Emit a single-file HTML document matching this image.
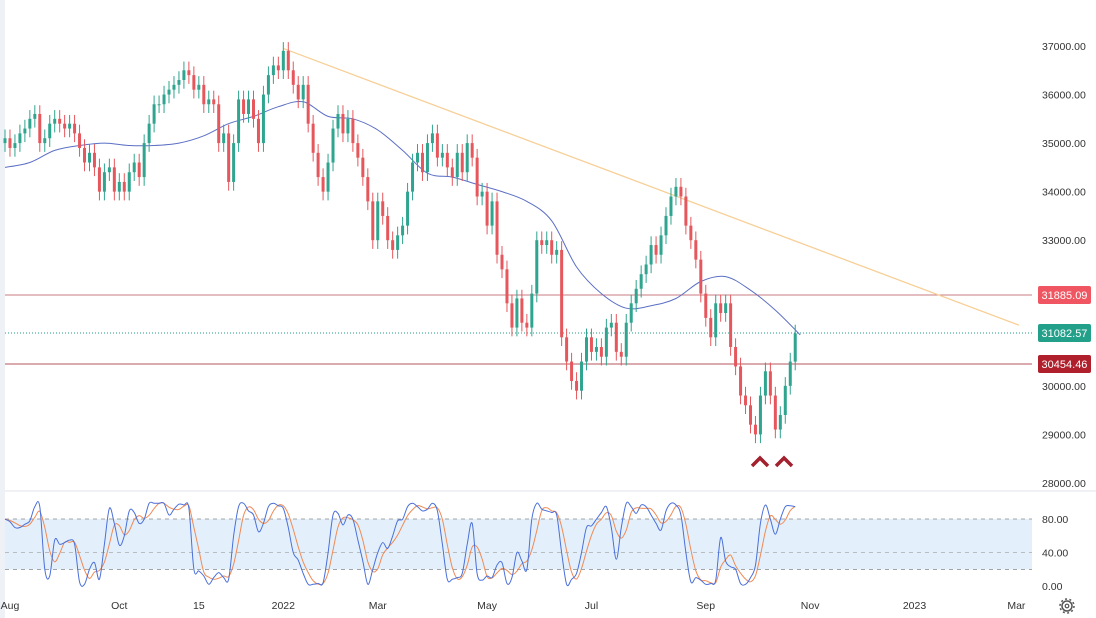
<!DOCTYPE html>
<html><head><meta charset="utf-8"><style>
html,body{margin:0;padding:0;background:#fff;}
svg{display:block;font-family:"Liberation Sans",sans-serif;}
</style></head><body>
<svg id="chart" width="1096" height="618" viewBox="0 0 1096 618">
<rect x="0" y="0" width="1096" height="618" fill="#ffffff"/>
<rect x="0" y="0" width="5" height="618" fill="#eef2f7"/>
<rect x="5" y="519" width="1027" height="50.5" fill="#e3f0fc"/>
<line x1="5" y1="519" x2="1032" y2="519" stroke="#888" stroke-dasharray="4,4" stroke-width="0.8"/>
<line x1="5" y1="552.6" x2="1032" y2="552.6" stroke="#aaa" stroke-dasharray="4,4" stroke-width="0.8"/>
<line x1="5" y1="569.5" x2="1032" y2="569.5" stroke="#888" stroke-dasharray="4,4" stroke-width="0.8"/>
<line x1="5" y1="491" x2="1096" y2="491" stroke="#e0e3eb" stroke-width="1"/>
<line x1="5" y1="295" x2="1032" y2="295" stroke="#c97b82" stroke-width="1"/>
<line x1="5" y1="333" x2="1032" y2="333" stroke="#1f9a86" stroke-width="1" stroke-dasharray="1,2"/>
<line x1="5" y1="364" x2="1032" y2="364" stroke="#b5555e" stroke-width="1"/>
<g id="trend"></g>
<g id="ma"></g>
<g id="candles"></g>
<g id="stoch"></g>
<g id="yaxis"></g>
<g id="xaxis"></g>
<path d="M752 466 L760 458 L768 466" fill="none" stroke="#a3212e" stroke-width="3.5"/>
<path d="M776 466 L784 458 L792 466" fill="none" stroke="#a3212e" stroke-width="3.5"/>
<g><rect x="1038" y="286" width="53" height="18" rx="2" fill="#f05662"/><text x="1064.5" y="299" fill="#fff" font-size="11" text-anchor="middle">31885.09</text></g>
<g><rect x="1038" y="324" width="53" height="18" rx="2" fill="#22a08a"/><text x="1064.5" y="337" fill="#fff" font-size="11" text-anchor="middle">31082.57</text></g>
<g><rect x="1038" y="355" width="53" height="18" rx="2" fill="#b01f2c"/><text x="1064.5" y="368" fill="#fff" font-size="11" text-anchor="middle">30454.46</text></g>
<g><circle cx="1067" cy="606" r="5" fill="none" stroke="#555" stroke-width="1.5"/><circle cx="1067" cy="606" r="1.8" fill="none" stroke="#555" stroke-width="1.2"/><circle cx="1067" cy="606" r="7" fill="none" stroke="#555" stroke-width="1.5" stroke-dasharray="2,2.4"/></g>
</svg>
<script>
const closes=[35.1,34.9,35.0,35.2,35.3,35.5,35.6,35.0,35.1,35.4,35.5,35.4,35.3,35.4,35.2,34.9,34.6,34.8,34.5,34.0,34.4,34.5,34.0,34.2,34.0,34.4,34.6,34.3,35.0,35.4,35.8,35.8,36.0,36.1,36.2,36.3,36.5,36.4,36.1,36.2,35.8,35.9,35.8,35.0,35.2,34.2,35.0,35.9,35.6,35.9,35.5,35.0,36.0,36.4,36.6,36.5,36.9,36.5,36.2,35.9,36.2,35.4,34.8,34.3,34.0,34.6,35.3,35.6,35.2,35.5,35.0,34.7,34.3,33.8,33.0,33.8,33.5,33.0,32.8,33.1,33.3,34.0,34.6,34.8,34.4,35.0,35.2,34.7,34.8,34.5,34.3,34.8,34.4,35.0,34.7,33.9,34.0,33.3,33.8,32.7,32.4,31.7,31.2,31.8,31.3,31.2,31.9,33.0,32.9,33.0,32.7,32.8,31.0,30.5,30.1,29.9,30.5,31.0,30.7,30.8,30.6,31.2,31.3,30.7,30.6,31.3,31.7,32.0,32.3,32.5,32.9,32.7,33.1,33.5,33.9,34.1,33.9,33.3,33.0,32.6,31.9,31.4,31.0,31.7,31.5,31.7,30.8,30.4,29.8,29.6,29.2,29.0,29.8,30.3,29.8,29.1,29.4,30.0,30.5,31.08];
const maValues=[34.5,34.6,34.85,34.95,35.0,34.95,34.95,35.0,35.15,35.4,35.55,35.75,35.85,35.55,35.5,35.27,34.85,34.38,34.3,34.15,34.0,33.8,33.4,32.45,31.9,31.6,31.65,31.8,32.15,32.25,31.97,31.56,31.05];
const stochK=[80,77,70,70,74,78,95,95,20,12,55,50,52,55,50,5,2,20,28,8,50,93,75,49,60,90,88,75,80,99,99,99,99,85,92,98,97,93,20,18,12,2,10,16,10,8,60,95,99,90,85,65,75,95,99,96,93,70,40,31,15,2,2,3,4,40,85,87,73,85,80,55,30,2,20,40,52,45,60,78,80,95,99,95,90,92,99,90,50,8,8,10,15,50,75,15,7,12,10,25,28,3,10,40,30,20,80,99,92,90,88,85,40,2,8,15,40,70,72,80,88,95,70,32,70,99,95,87,97,95,85,75,67,90,99,97,85,40,5,10,7,2,3,7,58,30,23,20,3,2,10,25,75,97,80,62,80,95,96,95];
const trendStart=[56,36.95];
const trendEnd=[204,31.25];
const priceTicks=[28000,29000,30000,31000,32000,33000,34000,35000,36000,37000];
const stochTicks=[0,40,80];
const timeLabels=["Aug","Oct","15","2022","Mar","May","Jul","Sep","Nov","2023","Mar"];
const timeIdx=[1,23,39,56,75,97,118,141,162,183,203.5];

const NS="http://www.w3.org/2000/svg";
const X=i=>5+i*4.97;
const Y=p=>46+(37-p)*48.55;
const YS=v=>586-v*0.835;
function mk(tag,attrs,parent){const e=document.createElementNS(NS,tag);for(const k in attrs)e.setAttribute(k,attrs[k]);parent.appendChild(e);return e;}
function smooth(pts){let d='M'+pts[0][0].toFixed(1)+' '+pts[0][1].toFixed(1);for(let i=0;i<pts.length-1;i++){const p0=pts[Math.max(0,i-1)],p1=pts[i],p2=pts[i+1],p3=pts[Math.min(pts.length-1,i+2)];const c1x=p1[0]+(p2[0]-p0[0])/6,c1y=p1[1]+(p2[1]-p0[1])/6,c2x=p2[0]-(p3[0]-p1[0])/6,c2y=p2[1]-(p3[1]-p1[1])/6;d+=` C${c1x.toFixed(1)} ${c1y.toFixed(1)} ${c2x.toFixed(1)} ${c2y.toFixed(1)} ${p2[0].toFixed(1)} ${p2[1].toFixed(1)}`;}return d;}

const tg=document.getElementById('trend');
const tl=mk('line',{x1:X(trendStart[0]),y1:Y(trendStart[1]),x2:X(trendEnd[0]),y2:Y(trendEnd[1]),stroke:'#f7cf96','stroke-width':1.3},tg);



const cg=document.getElementById('candles');
for(let i=0;i<closes.length;i++){
  const o=i===0?35.0:closes[i-1], c=closes[i];
  const up=c>=o, col=up?'#2fa48e':'#e5575c';
  const hi=Math.max(o,c)+0.18, lo=Math.min(o,c)-0.18;
  const w=mk('line',{x1:X(i),x2:X(i),y1:Y(hi),y2:Y(lo),stroke:col,'stroke-width':1},cg);
  
  
  const top=Y(Math.max(o,c)), h=Math.max(1,Y(Math.min(o,c))-top);
  const b=mk('rect',{x:X(i)-1.5,y:top,width:3,height:h,fill:col},cg);
  
  
}

const mg=document.getElementById('ma');
const mp=mk('path',{d:smooth(maValues.map((v,i)=>[X(i*5),Y(v)])),fill:'none',stroke:'#5b6fc4','stroke-width':1},mg);



const sg=document.getElementById('stoch');
const stochD=stochK.map((v,i)=>{const a=stochK.slice(Math.max(0,i-2),i+1);return a.reduce((s,x)=>s+x,0)/a.length;});
const dp=mk('path',{d:smooth(stochD.map((v,i)=>[X(i),YS(v)])),fill:'none',stroke:'#f08a55','stroke-width':1},sg);


const kp=mk('path',{d:smooth(stochK.map((v,i)=>[X(i),YS(v)])),fill:'none',stroke:'#4a6fd8','stroke-width':1},sg);



const yg=document.getElementById('yaxis');
priceTicks.forEach(p=>{
  const t=mk('text',{x:1042,y:Y(p/1000)+4,'font-size':10.5,fill:'#333'},yg);
  t.textContent=p.toFixed(2);
  
  
});
stochTicks.forEach(v=>{
  const t=mk('text',{x:1042,y:YS(v)+4,'font-size':10.5,fill:'#333'},yg);
  t.textContent=v.toFixed(2);
  
  
});
const xg=document.getElementById('xaxis');
timeLabels.forEach((l,i)=>{
  const t=mk('text',{x:X(timeIdx[i]),y:609,'font-size':10.5,fill:'#333','text-anchor':'middle'},xg);
  t.textContent=l;
  
  
});
</script>
</body></html>
